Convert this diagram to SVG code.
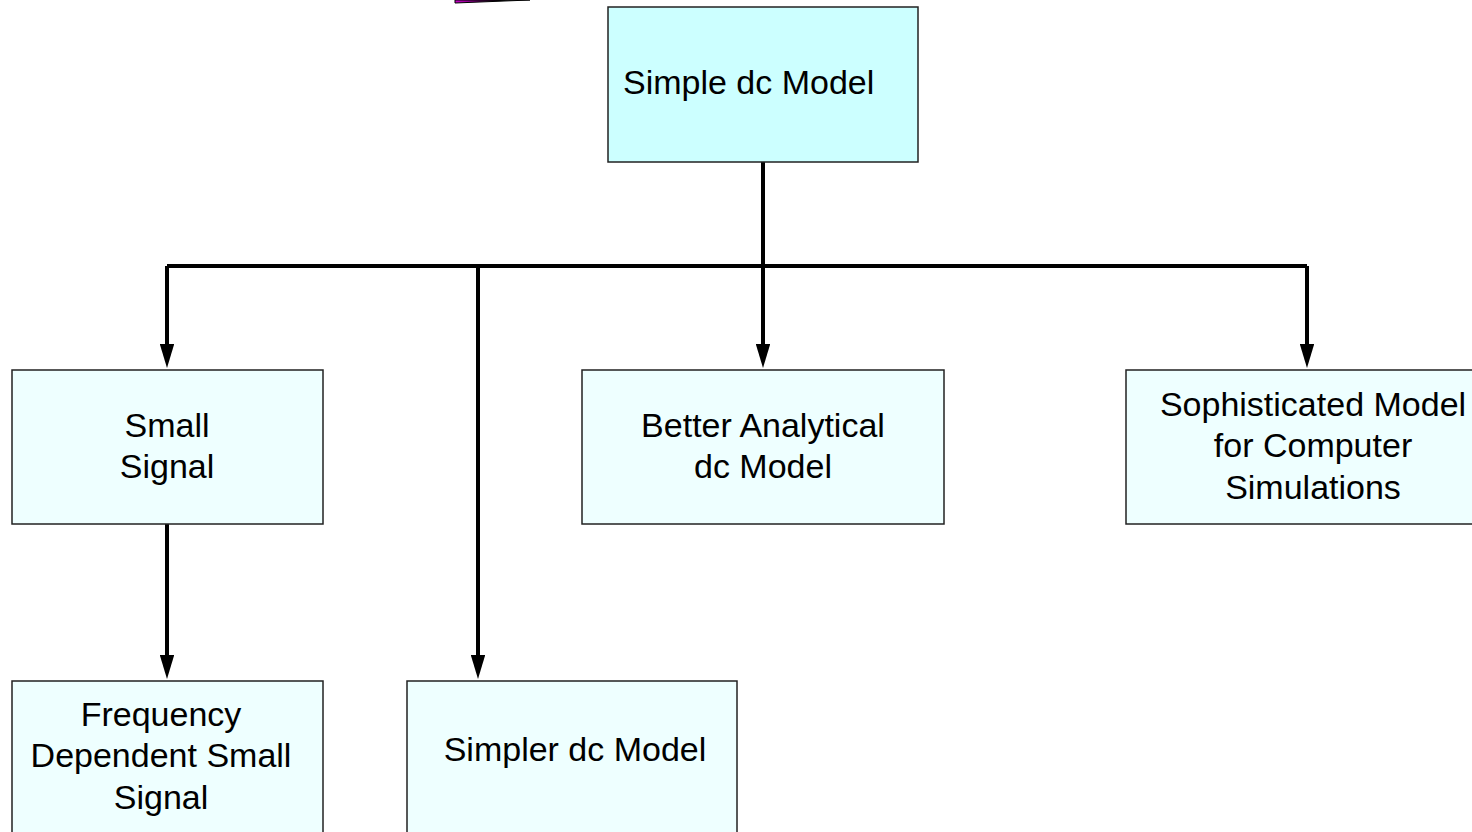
<svg xmlns="http://www.w3.org/2000/svg" width="1472" height="832" viewBox="0 0 1472 832">
  <defs>
    <style>
      .box { stroke: #222222; stroke-width: 1.5; }
      .root { fill: #ccffff; }
      .leaf { fill: #eeffff; }
      .lbl { font-family: "Liberation Sans", Arial, sans-serif; font-size: 34px; fill: #000000; }
      .mid { text-anchor: middle; }
      .wire { fill: none; stroke: #000000; stroke-width: 4; stroke-linejoin: miter; }
      .arrow { fill: none; stroke: #000000; stroke-width: 4; marker-end: url(#head); }
    </style>
    <!-- slim filled head; the shaft stops short and the head carries the tip 22px further -->
    <marker id="head" markerWidth="6" markerHeight="3.6" refX="0.5" refY="1.8" orient="auto" markerUnits="strokeWidth">
      <path d="M0,0 L6,1.8 L0,3.6 Z" fill="#000000"/>
    </marker>
    <linearGradient id="sliver" x1="0" y1="0" x2="1" y2="0">
      <stop offset="0" stop-color="#cc00cc"/>
      <stop offset="0.6" stop-color="#000000"/>
      <stop offset="1" stop-color="#ffffff"/>
    </linearGradient>
  </defs>

  <rect width="1472" height="832" fill="#ffffff"/>

  <!-- partial shape cut off at the top edge -->
  <path d="M455,3 L530,0 L455,0 Z" fill="url(#sliver)" stroke="#000000" stroke-width="1"/>

  <g id="connectors">
    <line class="wire" x1="763" y1="162" x2="763" y2="266"/>
    <path class="wire" d="M167,266 L1307,266"/>
    <line class="arrow" x1="763" y1="266" x2="763" y2="346"/>
    <path class="arrow" d="M167,266 L167,346"/>
    <path class="arrow" d="M1307,266 L1307,346"/>
    <path class="arrow" d="M478,266 L478,657"/>
    <path class="arrow" d="M167,524 L167,657"/>
  </g>

  <g id="simple-dc-model">
    <rect class="box root" x="608" y="7" width="310" height="155"/>
    <text class="lbl" x="623" y="94">Simple dc Model</text>
  </g>

  <g id="small-signal">
    <rect class="box leaf" x="12" y="370" width="311" height="154"/>
    <text class="lbl mid" x="167" y="437">Small</text>
    <text class="lbl mid" x="167" y="478">Signal</text>
  </g>

  <g id="better-analytical">
    <rect class="box leaf" x="582" y="370" width="362" height="154"/>
    <text class="lbl mid" x="763" y="437">Better Analytical</text>
    <text class="lbl mid" x="763" y="478">dc Model</text>
  </g>

  <g id="sophisticated-model">
    <rect class="box leaf" x="1126" y="370" width="360" height="154"/>
    <text class="lbl mid" x="1313" y="416">Sophisticated Model</text>
    <text class="lbl mid" x="1313" y="457">for Computer</text>
    <text class="lbl mid" x="1313" y="499">Simulations</text>
  </g>

  <g id="frequency-dependent">
    <rect class="box leaf" x="12" y="681" width="311" height="160"/>
    <text class="lbl mid" x="161" y="726">Frequency</text>
    <text class="lbl mid" x="161" y="767">Dependent Small</text>
    <text class="lbl mid" x="161" y="809">Signal</text>
  </g>

  <g id="simpler-dc-model">
    <rect class="box leaf" x="407" y="681" width="330" height="160"/>
    <text class="lbl mid" x="575" y="761">Simpler dc Model</text>
  </g>
</svg>
